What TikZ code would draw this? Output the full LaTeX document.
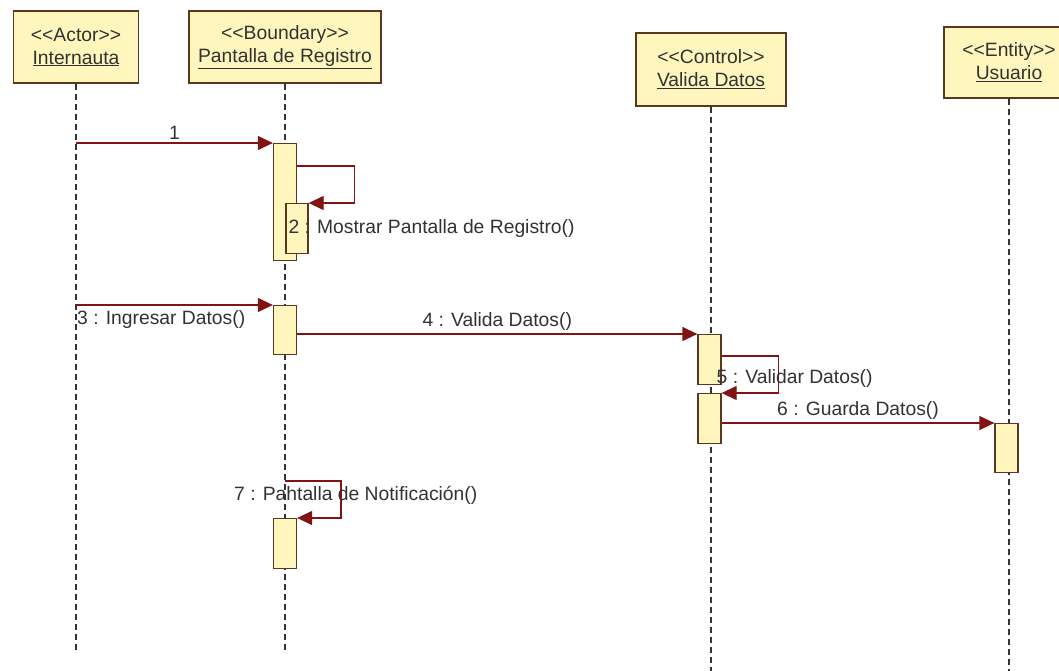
\documentclass[tikz,border=0pt]{standalone}
\usepackage{fontspec}
\setmainfont{Liberation Sans}
\usepackage{tikz}
\usetikzlibrary{arrows.meta, positioning, calc}

\definecolor{headfill}{RGB}{255,246,190}
\definecolor{headline}{RGB}{90,55,30}
\definecolor{msgred}{RGB}{128,20,20}
\definecolor{labelgray}{RGB}{50,50,50}

\begin{document}
\begin{tikzpicture}[x=1pt, y=-1pt, font=\fontsize{19.3}{23}\selectfont, text=labelgray]

  \tikzset{
    headbox/.style={rectangle, draw=headline, fill=headfill, line width=1.4pt,
      align=center, inner sep=2pt},
    actbox/.style={rectangle, draw=headline, fill=headfill, line width=1.3pt,
      minimum width=23, anchor=north, inner sep=0pt},
    lifeline/.style={black!80, line width=1.4pt, dash pattern=on 6pt off 4pt},
    msgarrow/.style={-{Triangle[length=15pt, width=14pt]}, draw=msgred,
      line width=1.3pt},
    msglabel/.style={inner sep=3pt}
  }

  \useasboundingbox (0,0) rectangle (1059,671);
  \clip (0,0) rectangle (1059,671);

  \node[headbox, minimum width=125, minimum height=72] (internauta) at (76,47)
    {<{}<Actor>{}>\\\underline{Internauta}};
  \node[headbox, minimum width=192, minimum height=72] (pantalla) at (285,47)
    {<{}<Boundary>{}>\\\underline{Pantalla de Registro}};
  \node[headbox, minimum width=150, minimum height=73] (valida) at (711,69.5)
    {<{}<Control>{}>\\\underline{Valida Datos}};
  \node[headbox, minimum width=130, minimum height=71] (usuario) at (1009,62.5)
    {<{}<Entity>{}>\\\underline{Usuario}};

  \coordinate (endInternauta) at (76,652);
  \coordinate (endPantalla) at (285,652);
  \coordinate (endValida) at (711,675);
  \coordinate (endUsuario) at (1009,675);

  \draw[lifeline] (internauta) -- (endInternauta);
  \draw[lifeline] (pantalla) -- (endPantalla);
  \draw[lifeline] (valida) -- (endValida);
  \draw[lifeline] (usuario) -- (endUsuario);

  \node[actbox, minimum height=117] (act1) at (285,143) {};
  \node[actbox, minimum height=50, minimum width=22] (act2) at (297,203) {};
  \node[actbox, minimum height=49] (act3) at (285,305) {};
  \node[actbox, minimum height=50] (act4) at (709.5,334) {};
  \node[actbox, minimum height=50] (act5) at (709.5,393) {};
  \node[actbox, minimum height=49] (act6) at (1006.5,423) {};
  \node[actbox, minimum height=50] (act7) at (285,518) {};

  \coordinate (msg1) at (76,143);
  \coordinate (msg3) at (76,305);
  \coordinate (msg7) at (285,481);

  \draw[msgarrow] (msg1) -- node[above, msglabel] {1} (act1.north west);
  \draw[msgarrow] ([yshift=-23pt]act1.north east) -- ++(57,0) |- (act2.north east);
  \node[anchor=west, msglabel] (lbl2) at (act2.west)
    {2 : Mostrar Pantalla de Registro()};

  \draw[msgarrow] (msg3) -- (act3.north west);
  \node[anchor=north west, inner sep=1pt] (lbl3) at ([yshift=-4pt]msg3)
    {3 : Ingresar Datos()};

  \draw[msgarrow] (act3.east |- act4.north) -- node[above, msglabel]
    {4 : Valida Datos()} (act4.north west);

  \draw[msgarrow] ([yshift=-22pt]act4.north east) -- ++(57,0) |- (act5.north east);
  \node[anchor=west, msglabel] (lbl5) at ([xshift=4pt, yshift=7pt]act4.south)
    {5 : Validar Datos()};

  \draw[msgarrow] (act5.east |- act6.north) -- node[above, msglabel]
    {6 : Guarda Datos()} (act6.north west);

  \draw[msgarrow] (msg7) -- ++(56,0) |- (act7.north east);
  \node[anchor=west, msglabel] (lbl7) at ($(msg7)+(-54,14)$)
    {7 : Pahtalla de Notificación()};

\end{tikzpicture}
\end{document}
